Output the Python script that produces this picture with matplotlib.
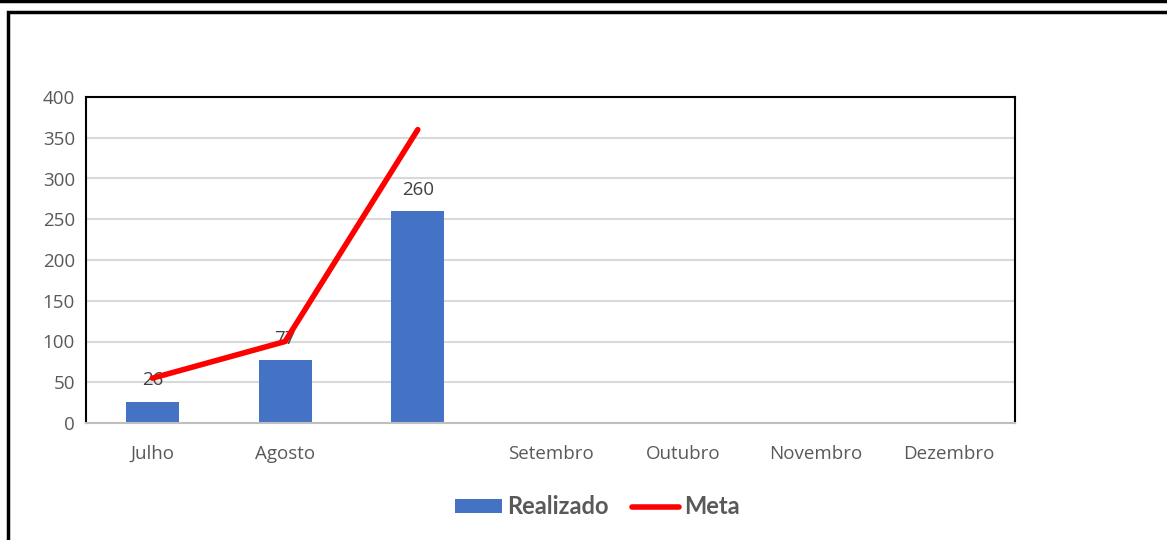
import matplotlib.pyplot as plt
from matplotlib.lines import Line2D
from matplotlib.patches import Rectangle

plt.rcParams['font.family'] = ['Open Sans', 'DejaVu Sans']

meses = ['Julho', 'Agosto', '', 'Setembro', 'Outubro', 'Novembro', 'Dezembro']
realizado = [26, 77, 260]
meta = [55, 100, 360]

fig = plt.figure(figsize=(11.67, 5.4), dpi=100)
W, H = 1167, 540

# moldura do grafico
fig.add_artist(Line2D([0, 1], [1 - 1 / H, 1 - 1 / H], color='black', lw=2.5,
                      transform=fig.transFigure))
fig.add_artist(Rectangle((7.5 / W, -0.1), 1.2, 1 - 11.5 / H + 0.1, fill=False,
                         edgecolor='black', lw=2.5, transform=fig.transFigure))

ax = fig.add_axes([86 / W, 1 - 423 / H, (1015 - 86) / W, (423 - 97) / H])

x = list(range(len(meses)))
barras = ax.bar(x[:len(realizado)], realizado, width=0.4, color='#4472C4',
                label='Realizado', zorder=2)
ax.bar_label(barras, padding=9, fontsize=13.5, color='#404040')
linha, = ax.plot(x[:len(meta)], meta, color='#FF0000', lw=4,
                 solid_capstyle='round', label='Meta', zorder=4)

ax.set_xlim(-0.5, len(meses) - 0.5)
ax.set_ylim(0, 400)
ax.set_yticks(range(0, 401, 50))
ax.set_xticks(x)
ax.set_xticklabels(meses)
ax.tick_params(length=0, labelsize=13.5, colors='#595959', pad=8)
ax.tick_params(axis='x', pad=16)
ax.yaxis.grid(True, color='#D9D9D9', lw=1.5, zorder=0)
ax.set_axisbelow(True)
for lado in ['left', 'top', 'right']:
    ax.spines[lado].set_color('black')
    ax.spines[lado].set_linewidth(1.5)
ax.spines['bottom'].set_color('#BFBFBF')
ax.spines['bottom'].set_linewidth(1.5)

leg = fig.legend([barras, linha], ['Realizado', 'Meta'], loc='center',
                 bbox_to_anchor=(597 / W, 1 - 507 / H), ncol=2,
                 frameon=False, handlelength=2.0, handleheight=0.55,
                 handletextpad=0.2, columnspacing=1.0,
                 prop={'family': 'Lato', 'weight': 'bold', 'size': 17})
for t in leg.get_texts():
    t.set_color('#595959')

fig.savefig('out.png', dpi=100)
